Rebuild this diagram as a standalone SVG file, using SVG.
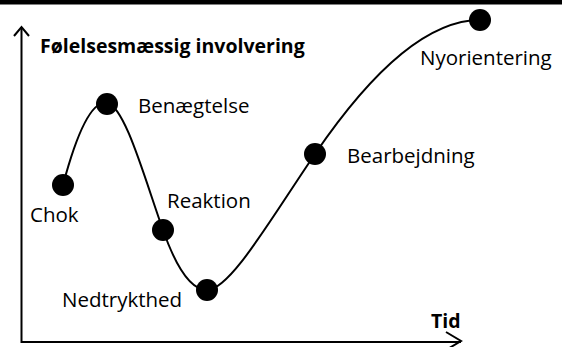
<svg xmlns="http://www.w3.org/2000/svg" width="562" height="347" viewBox="0 0 562 347">
  <style>
    .axis { fill: none; stroke: #000; stroke-width: 2; }
    .curve { fill: none; stroke: #000; stroke-width: 2; }
    .dot { fill: #000; }
    .lbl { font-family: "Open Sans", "Liberation Sans", sans-serif; font-size: 20.5px; fill: #000; }
    .ttl { font-family: "Open Sans", "Liberation Sans", sans-serif; font-size: 19.5px; font-weight: bold; fill: #000; }
  </style>
  <rect x="0" y="0" width="562" height="347" fill="#fff"/>
  <rect x="0" y="0" width="562" height="4.5" fill="#000"/>

  <!-- axes -->
  <g id="axes">
    <path class="axis" d="M21.5,27 V342 H461"/>
    <path class="axis" d="M14,36 L21.5,27 L29,36"/>
    <path class="axis" d="M446,332 L461,341 L446,350"/>
    <text class="ttl" x="40" y="53">Følelsesmæssig involvering</text>
    <text class="ttl" x="431" y="328">Tid</text>
  </g>

  <!-- connectors -->
  <g id="connectors">
    <path class="curve" d="M63,185 C75,140 90,100 107,103 C125,106 145,180 163,230 C175,264 190,290 207,290 C230,290 270,220 315,154 C360,88 420,20 480,20"/>
  </g>

  <g id="chok">
    <circle class="dot" cx="63" cy="185" r="11"/>
    <text class="lbl" x="30" y="222">Chok</text>
  </g>
  <g id="benaegtelse">
    <circle class="dot" cx="107" cy="104" r="11"/>
    <text class="lbl" x="138" y="113">Benægtelse</text>
  </g>
  <g id="reaktion">
    <circle class="dot" cx="163" cy="230" r="11"/>
    <text class="lbl" x="167" y="208">Reaktion</text>
  </g>
  <g id="nedtrykthed">
    <circle class="dot" cx="207" cy="290" r="11"/>
    <text class="lbl" x="62" y="307">Nedtrykthed</text>
  </g>
  <g id="bearbejdning">
    <circle class="dot" cx="315" cy="154" r="11"/>
    <text class="lbl" x="347" y="163">Bearbejdning</text>
  </g>
  <g id="nyorientering">
    <circle class="dot" cx="480" cy="20" r="11"/>
    <text class="lbl" x="420" y="65">Nyorientering</text>
  </g>
</svg>
